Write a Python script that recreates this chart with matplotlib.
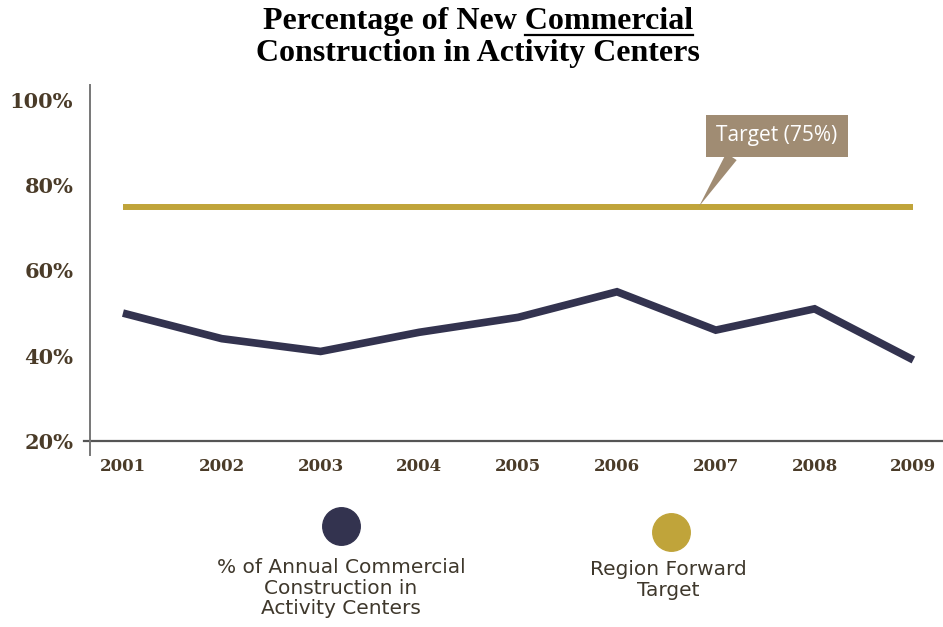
import matplotlib.pyplot as plt
from matplotlib.lines import Line2D

years = [2001, 2002, 2003, 2004, 2005, 2006, 2007, 2008, 2009]
share_in_centers = [50, 44, 41, 45.5, 49, 55, 46, 51, 39]
target_pct = 75
y_ticks = [20, 40, 60, 80, 100]

NAVY = "#33334f"
GOLD = "#c0a43a"
BROWN = "#4a3b28"
BOX = "#a08c73"

fig = plt.figure(figsize=(9.43, 6.27), dpi=100)
ax = fig.add_axes([0.0954, 0.2967, 0.9046, 0.5677])

ax.plot(years, share_in_centers, color=NAVY, lw=5.5, solid_joinstyle="miter",
        solid_capstyle="butt")
ax.plot([years[0], years[-1]], [target_pct, target_pct], color=GOLD, lw=4.3,
        solid_capstyle="butt")

ax.set_xlim(years[0] - 0.334, years[-1] + 0.3)
ax.set_ylim(20, 103.5)

for s in ["top", "right", "left", "bottom"]:
    ax.spines[s].set_visible(False)
# axis lines run a little past the corner
ax.add_line(Line2D([-0.007, 1.0], [0, 0], transform=ax.transAxes, color="#555555",
                   lw=1.6, clip_on=False))
ax.add_line(Line2D([0, 0], [-0.04, 1.0], transform=ax.transAxes, color="#777777",
                   lw=1.4, clip_on=False))

ax.set_yticks(y_ticks)
ax.set_yticklabels([f"{v}%" for v in y_ticks])
ax.set_xticks(years)
ax.set_xticklabels([str(y) for y in years])
ax.tick_params(axis="y", length=0, pad=12, labelsize=15, labelcolor=BROWN)
ax.tick_params(axis="x", length=0, pad=12, labelsize=12, labelcolor=BROWN)
for lbl in ax.get_xticklabels() + ax.get_yticklabels():
    lbl.set_fontfamily("DejaVu Serif")
    lbl.set_fontweight("bold")

# callout for the target line
ax.annotate("Target (75%)", xy=(2006.83, target_pct), xytext=(2007.62, 91.6),
            ha="center", va="center", color="white", fontsize=15,
            fontfamily="Open Sans",
            bbox=dict(boxstyle="square,pad=0.5", fc=BOX, ec="none"),
            arrowprops=dict(arrowstyle="wedge,tail_width=0.6,shrink_factor=0.5",
                            fc=BOX, ec="none", shrinkA=0, shrinkB=0,
                            relpos=(0.18, 0.0)))

# title, with "Commercial" underlined
tfont = dict(family="Liberation Serif", weight="bold", size=23, color="black")
t1 = fig.text(0.507, 0.966, "Percentage of New Commercial", ha="center", va="center", **tfont)
fig.text(0.507, 0.915, "Construction in Activity Centers", ha="center", va="center", **tfont)
fig.canvas.draw()
r = fig.canvas.get_renderer()
bb = t1.get_window_extent(r)
probe = fig.text(0, 0, "Commercial", **tfont)
w = probe.get_window_extent(r).width
probe.remove()
W, H = fig.bbox.width, fig.bbox.height
fig.add_artist(Line2D([(bb.x1 - w) / W, bb.x1 / W], [(bb.y0 + 1) / H] * 2,
                      transform=fig.transFigure, color="black", lw=1.6))

# legend
leg_font = dict(family="DejaVu Sans", size=14.5, color="#3f382c", ha="center",
                va="center", linespacing=1.1)
fig.add_artist(Line2D([341 / W], [1 - 526 / H], marker="o", ms=27, color=NAVY,
                      transform=fig.transFigure))
fig.add_artist(Line2D([671 / W], [1 - 532 / H], marker="o", ms=27, color=GOLD,
                      transform=fig.transFigure))
fig.text(341 / W, 1 - 588 / H, "% of Annual Commercial\nConstruction in\nActivity Centers",
         **leg_font)
fig.text(668 / W, 1 - 580 / H, "Region Forward\nTarget", **leg_font)

fig.savefig("out.png", dpi=100)
